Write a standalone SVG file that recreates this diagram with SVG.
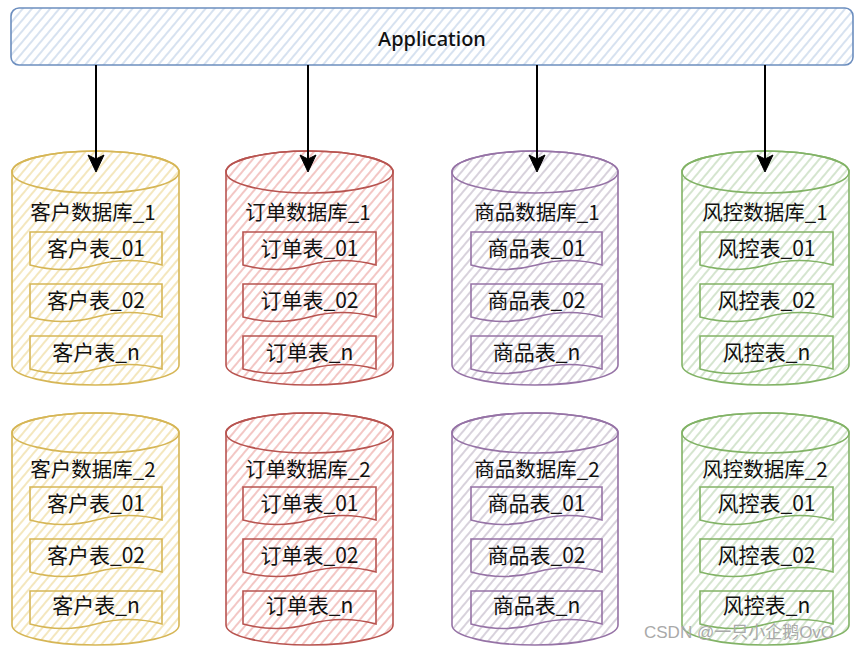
<svg xmlns="http://www.w3.org/2000/svg" width="864" height="646" viewBox="0 0 864 646">
<defs>
<pattern id="hb" width="7" height="7" patternUnits="userSpaceOnUse" patternTransform="rotate(40)"><rect width="7" height="7" fill="#ffffff"/><line x1="2" y1="0" x2="2" y2="7" stroke="#c6d6ea" stroke-width="1.4"/></pattern>
<pattern id="hy" width="7" height="7" patternUnits="userSpaceOnUse" patternTransform="rotate(40)"><rect width="7" height="7" fill="#ffffff"/><line x1="2" y1="0" x2="2" y2="7" stroke="#f1dfa8" stroke-width="1.5"/></pattern>
<pattern id="hr" width="7" height="7" patternUnits="userSpaceOnUse" patternTransform="rotate(40)"><rect width="7" height="7" fill="#ffffff"/><line x1="2" y1="0" x2="2" y2="7" stroke="#efb5b2" stroke-width="1.5"/></pattern>
<pattern id="hp" width="7" height="7" patternUnits="userSpaceOnUse" patternTransform="rotate(40)"><rect width="7" height="7" fill="#ffffff"/><line x1="2" y1="0" x2="2" y2="7" stroke="#ccc3d1" stroke-width="1.5"/></pattern>
<pattern id="hg" width="7" height="7" patternUnits="userSpaceOnUse" patternTransform="rotate(40)"><rect width="7" height="7" fill="#ffffff"/><line x1="2" y1="0" x2="2" y2="7" stroke="#c7ddbf" stroke-width="1.5"/></pattern>
<style>
text{font-family:"Noto Sans CJK SC","Noto Sans",sans-serif;fill:#111;text-anchor:middle;}
.t{font-size:21px;}
.h{font-size:20.5px;}
.app{font-size:20px;font-weight:500;font-family:"Noto Sans","Noto Sans CJK SC",sans-serif;}
.y{stroke:#d6b656;fill:url(#hy);stroke-width:1.6;}
.r{stroke:#b85450;fill:url(#hr);stroke-width:1.6;}
.p{stroke:#9673a6;fill:url(#hp);stroke-width:1.6;}
.g{stroke:#82b366;fill:url(#hg);stroke-width:1.6;}
.rim{fill:none;}
.conn line{stroke:#000;stroke-width:2;}
.conn path{fill:#000;stroke:#000;stroke-width:1;stroke-linejoin:round;}
.wm{font-family:"Liberation Sans","Noto Sans CJK SC",sans-serif;font-size:17px;fill:#a9a9a9;text-anchor:start;}
</style>
</defs>
<rect width="864" height="646" fill="#ffffff"/>

<g id="application">
<rect x="11" y="8" width="842" height="57" rx="8" fill="url(#hb)" stroke="#6c8ebf" stroke-width="1.6"/>
<text class="app" x="432" y="46">Application</text>
</g>

<!-- Row 1 cylinders -->
<g id="db-kehu-1">
<path class="y" d="M12,172 A83.5,21 0 0 1 179,172 V365 A83.5,20 0 0 1 12,365 Z"/>
<ellipse class="y rim" cx="95.5" cy="172" rx="83.5" ry="21"/>
<text class="h" x="93" y="220">客户数据库_1</text>
</g>
<g id="db-dingdan-1">
<path class="r" d="M226,172 A83.5,21 0 0 1 393,172 V365 A83.5,20 0 0 1 226,365 Z"/>
<ellipse class="r rim" cx="309.5" cy="172" rx="83.5" ry="21"/>
<text class="h" x="308" y="220">订单数据库_1</text>
</g>
<g id="db-shangpin-1">
<path class="p" d="M452,172 A83,21 0 0 1 618,172 V365 A83,20 0 0 1 452,365 Z"/>
<ellipse class="p rim" cx="535" cy="172" rx="83" ry="21"/>
<text class="h" x="537" y="220">商品数据库_1</text>
</g>
<g id="db-fengkong-1">
<path class="g" d="M682,172 A83.5,21 0 0 1 849,172 V365 A83.5,20 0 0 1 682,365 Z"/>
<ellipse class="g rim" cx="765.5" cy="172" rx="83.5" ry="21"/>
<text class="h" x="765" y="220">风控数据库_1</text>
</g>

<!-- Row 2 cylinders -->
<g id="db-kehu-2">
<path class="y" d="M12,433 A83.5,20 0 0 1 179,433 V625 A83.5,20 0 0 1 12,625 Z"/>
<ellipse class="y rim" cx="95.5" cy="433" rx="83.5" ry="20"/>
<text class="h" x="93" y="477">客户数据库_2</text>
</g>
<g id="db-dingdan-2">
<path class="r" d="M226,433 A83.5,20 0 0 1 393,433 V625 A83.5,20 0 0 1 226,625 Z"/>
<ellipse class="r rim" cx="309.5" cy="433" rx="83.5" ry="20"/>
<text class="h" x="308" y="477">订单数据库_2</text>
</g>
<g id="db-shangpin-2">
<path class="p" d="M452,433 A83,20 0 0 1 618,433 V625 A83,20 0 0 1 452,625 Z"/>
<ellipse class="p rim" cx="535" cy="433" rx="83" ry="20"/>
<text class="h" x="537" y="477">商品数据库_2</text>
</g>
<g id="db-fengkong-2">
<path class="g" d="M682,433 A83.5,20 0 0 1 849,433 V625 A83.5,20 0 0 1 682,625 Z"/>
<ellipse class="g rim" cx="765.5" cy="433" rx="83.5" ry="20"/>
<text class="h" x="765" y="477">风控数据库_2</text>
</g>

<!-- Tables column 1 -->
<g id="kehu-1-01"><path class="y" d="M30,232 H162 V265 Q129,256 96,265 Q63,274 30,265 Z"/><text class="t" x="96" y="256">客户表_01</text></g>
<g id="kehu-1-02"><path class="y" d="M30,284 H162 V317 Q129,308 96,317 Q63,326 30,317 Z"/><text class="t" x="96" y="308">客户表_02</text></g>
<g id="kehu-1-n"><path class="y" d="M30,336 H162 V369 Q129,360 96,369 Q63,378 30,369 Z"/><text class="t" x="96" y="360">客户表_n</text></g>
<g id="kehu-2-01"><path class="y" d="M30,487 H162 V520 Q129,511 96,520 Q63,529 30,520 Z"/><text class="t" x="96" y="511">客户表_01</text></g>
<g id="kehu-2-02"><path class="y" d="M30,539 H162 V572 Q129,563 96,572 Q63,581 30,572 Z"/><text class="t" x="96" y="563">客户表_02</text></g>
<g id="kehu-2-n"><path class="y" d="M30,591 H162 V624 Q129,615 96,624 Q63,633 30,624 Z"/><text class="t" x="96" y="613">客户表_n</text></g>

<!-- Tables column 2 -->
<g id="dingdan-1-01"><path class="r" d="M243,232 H376 V265 Q342.75,256 309.5,265 Q276.25,274 243,265 Z"/><text class="t" x="309.5" y="256">订单表_01</text></g>
<g id="dingdan-1-02"><path class="r" d="M243,284 H376 V317 Q342.75,308 309.5,317 Q276.25,326 243,317 Z"/><text class="t" x="309.5" y="308">订单表_02</text></g>
<g id="dingdan-1-n"><path class="r" d="M243,336 H376 V369 Q342.75,360 309.5,369 Q276.25,378 243,369 Z"/><text class="t" x="309.5" y="360">订单表_n</text></g>
<g id="dingdan-2-01"><path class="r" d="M243,487 H376 V520 Q342.75,511 309.5,520 Q276.25,529 243,520 Z"/><text class="t" x="309.5" y="511">订单表_01</text></g>
<g id="dingdan-2-02"><path class="r" d="M243,539 H376 V572 Q342.75,563 309.5,572 Q276.25,581 243,572 Z"/><text class="t" x="309.5" y="563">订单表_02</text></g>
<g id="dingdan-2-n"><path class="r" d="M243,591 H376 V624 Q342.75,615 309.5,624 Q276.25,633 243,624 Z"/><text class="t" x="309.5" y="613">订单表_n</text></g>

<!-- Tables column 3 -->
<g id="shangpin-1-01"><path class="p" d="M471,232 H602 V265 Q569.25,256 536.5,265 Q503.75,274 471,265 Z"/><text class="t" x="536.5" y="256">商品表_01</text></g>
<g id="shangpin-1-02"><path class="p" d="M471,284 H602 V317 Q569.25,308 536.5,317 Q503.75,326 471,317 Z"/><text class="t" x="536.5" y="308">商品表_02</text></g>
<g id="shangpin-1-n"><path class="p" d="M471,336 H602 V369 Q569.25,360 536.5,369 Q503.75,378 471,369 Z"/><text class="t" x="536.5" y="360">商品表_n</text></g>
<g id="shangpin-2-01"><path class="p" d="M471,487 H602 V520 Q569.25,511 536.5,520 Q503.75,529 471,520 Z"/><text class="t" x="536.5" y="511">商品表_01</text></g>
<g id="shangpin-2-02"><path class="p" d="M471,539 H602 V572 Q569.25,563 536.5,572 Q503.75,581 471,572 Z"/><text class="t" x="536.5" y="563">商品表_02</text></g>
<g id="shangpin-2-n"><path class="p" d="M471,591 H602 V624 Q569.25,615 536.5,624 Q503.75,633 471,624 Z"/><text class="t" x="536.5" y="613">商品表_n</text></g>

<!-- Tables column 4 -->
<g id="fengkong-1-01"><path class="g" d="M700,232 H833 V265 Q799.75,256 766.5,265 Q733.25,274 700,265 Z"/><text class="t" x="766.5" y="256">风控表_01</text></g>
<g id="fengkong-1-02"><path class="g" d="M700,284 H833 V317 Q799.75,308 766.5,317 Q733.25,326 700,317 Z"/><text class="t" x="766.5" y="308">风控表_02</text></g>
<g id="fengkong-1-n"><path class="g" d="M700,336 H833 V369 Q799.75,360 766.5,369 Q733.25,378 700,369 Z"/><text class="t" x="766.5" y="360">风控表_n</text></g>
<g id="fengkong-2-01"><path class="g" d="M700,487 H833 V520 Q799.75,511 766.5,520 Q733.25,529 700,520 Z"/><text class="t" x="766.5" y="511">风控表_01</text></g>
<g id="fengkong-2-02"><path class="g" d="M700,539 H833 V572 Q799.75,563 766.5,572 Q733.25,581 700,572 Z"/><text class="t" x="766.5" y="563">风控表_02</text></g>
<g id="fengkong-2-n"><path class="g" d="M700,591 H833 V624 Q799.75,615 766.5,624 Q733.25,633 700,624 Z"/><text class="t" x="766.5" y="613">风控表_n</text></g>

<g id="connectors" class="conn">
<line x1="96" y1="65" x2="96" y2="160"/><path d="M96,172 L88,155 L96,159 L104,155 Z"/>
<line x1="308" y1="65" x2="308" y2="160"/><path d="M308,172 L300,155 L308,159 L316,155 Z"/>
<line x1="537" y1="65" x2="537" y2="160"/><path d="M537,172 L529,155 L537,159 L545,155 Z"/>
<line x1="765" y1="65" x2="765" y2="160"/><path d="M765,172 L757,155 L765,159 L773,155 Z"/>
</g>

<text class="wm" x="644" y="638">CSDN @一只小企鹅OvO</text>
</svg>
